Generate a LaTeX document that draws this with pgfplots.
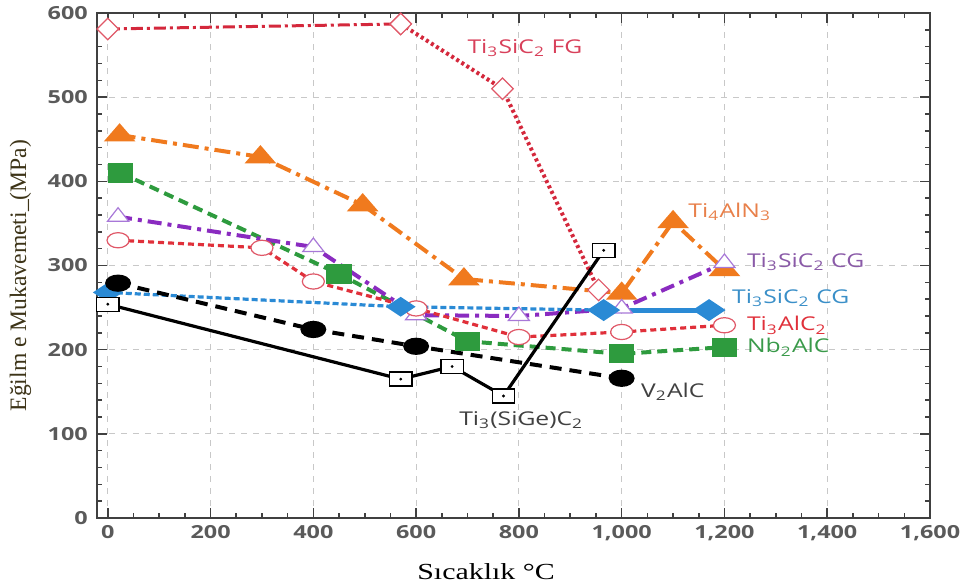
\documentclass[border=0pt]{standalone}
\usepackage{fontspec}
\setmainfont{Liberation Serif}
\setsansfont{Open Sans}
\usepackage{pgfplots}
\pgfplotsset{compat=1.18}

\definecolor{fgred}{HTML}{D4283C}
\definecolor{fglab}{HTML}{D8405A}
\definecolor{orng}{HTML}{F07A1E}
\definecolor{orlab}{HTML}{E8804A}
\definecolor{grn}{HTML}{2E9B3E}
\definecolor{grlab}{HTML}{3A9A4A}
\definecolor{purp}{HTML}{8A2BC0}
\definecolor{pulab}{HTML}{8A5AA8}
\definecolor{purpmk}{HTML}{A878D8}
\definecolor{alred}{HTML}{E0303A}
\definecolor{almk}{HTML}{E05868}
\definecolor{blu}{HTML}{2A8AD5}
\definecolor{blab}{HTML}{3A8FC8}
\definecolor{gridgray}{HTML}{C8C8C8}
\definecolor{axgray}{HTML}{404040}
\definecolor{tickgray}{HTML}{5A5A5A}
\definecolor{ylab}{HTML}{3D3418}

\begin{document}
\begin{tikzpicture}
\begin{axis}[
   at={(0,0)}, anchor=south west,
   scale only axis, width=416.5pt, height=252.5pt,
   xmin=-21, xmax=1600, ymin=0, ymax=600,
   xtick={0,200,...,1600}, ytick={0,100,...,600},
   minor x tick num=3, minor y tick num=4,
   tick align=inside,
   major tick length=5pt, minor tick length=2.5pt,
   every tick/.style={axgray, line width=0.8pt},
   axis line style={axgray, line width=1pt},
   grid=major,
   major grid style={gridgray, dash pattern=on 3pt off 3pt, line width=0.5pt},
   tick label style={font=\sffamily\bfseries\fontsize{9}{10}\selectfont, text=tickgray, xscale=1.3},
   /pgf/number format/.cd, 1000 sep={,}, assume math mode=true, /pgfplots/.cd,
   xlabel={Sıcaklık °C},
   xlabel style={at={(axis description cs:0.467,-0.107)}, anchor=center,
       font=\fontsize{11.5}{13}\selectfont, xscale=1.3},
   ylabel={Eğilm e Mukavemeti\_(MPa)},
   ylabel style={at={(axis description cs:-0.092,0.48)}, anchor=center,
       font=\fontsize{11.8}{13}\selectfont, text=ylab},
   clip=false,
   ]
% Ti3SiC2 FG
\addplot[fgred, line width=1.5pt, dash pattern=on 6pt off 2pt on 1.5pt off 2pt,
   mark=square*, mark size=3.8pt, mark options={rotate=45, solid, fill=white, draw=almk, line width=0.6pt}]
  coordinates {(0,581) (570,587)};
\addplot[fgred, line width=2pt, dash pattern=on 1.5pt off 1.5pt,
   mark=square*, mark size=3.8pt, mark options={rotate=45, solid, fill=white, draw=almk, line width=0.6pt}]
  coordinates {(570,587) (768,510) (955,271)};
% Ti4AlN3
\addplot[orng, line width=2pt, dash pattern=on 8pt off 3pt on 2pt off 3pt,
   mark=triangle*, mark size=4.4pt, mark options={solid, xscale=1.5, fill=orng}]
  coordinates {(23,455) (297,429) (496,372) (693,284) (1000,267) (1100,352) (1200,295)};
% Nb2AlC
\addplot[grn, line width=2pt, dash pattern=on 5pt off 3pt,
   mark=square*, mark size=3.8pt, mark options={solid, xscale=1.4, fill=grn}]
  coordinates {(25,410) (450,290) (700,210) (1000,195) (1200,203)};
% Ti3SiC2 CG (purple)
\addplot[purp, line width=2pt, dash pattern=on 7pt off 3pt on 2pt off 3pt,
   mark=triangle*, mark size=4.5pt, mark options={solid, xscale=1.35, fill=white, draw=purpmk, line width=0.6pt}]
  coordinates {(20,358) (400,322) (600,241) (800,240) (1000,249) (1200,303)};
% Ti3AlC2
\addplot[alred, line width=1.6pt, dash pattern=on 3pt off 2pt,
   mark=*, mark size=3.8pt, mark options={solid, xscale=1.45, fill=white, draw=almk, line width=0.6pt}]
  coordinates {(20,330) (300,321) (400,281) (600,249) (800,215) (1000,221) (1200,229)};
% Ti3SiC2 CG (blue)
\addplot[blu, line width=1.6pt, dash pattern=on 3pt off 1.5pt,
   mark=diamond*, mark size=4pt, mark options={solid, xscale=2, fill=blu}]
  coordinates {(0,268) (570,251) (965,247)};
\addplot[blu, line width=2.5pt,
   mark=diamond*, mark size=4pt, mark options={solid, xscale=2, fill=blu}]
  coordinates {(965,247) (1170,247)};
% V2AlC
\addplot[black, line width=2pt, dash pattern=on 6pt off 4pt,
   mark=*, mark size=3.3pt, mark options={solid, xscale=1.65, fill=black}]
  coordinates {(20,279) (400,224) (600,204) (1000,166)};
% Ti3(SiGe)C2
\addplot[black, line width=1.6pt,
   mark=square*, mark size=3.5pt, mark options={solid, xscale=1.6, fill=white, line width=0.7pt}]
  coordinates {(0,254) (570,165) (670,180) (770,145) (965,318)};
\addplot[black, only marks, mark=*, mark size=0.5pt]
  coordinates {(0,254) (570,165) (670,180) (770,145) (965,318)};

% labels
\tikzset{lab/.style={anchor=west, font=\sffamily\fontsize{9.5}{10}\selectfont, xscale=1.3, inner sep=0pt}}
\node[lab, text=fglab] at (axis cs:699,558) {Ti\textsubscript{3}SiC\textsubscript{2} FG};
\node[lab, text=orlab] at (axis cs:1129,364) {Ti\textsubscript{4}AlN\textsubscript{3}};
\node[lab, text=pulab] at (axis cs:1243,304) {Ti\textsubscript{3}SiC\textsubscript{2} CG};
\node[lab, text=blab] at (axis cs:1214,261) {Ti\textsubscript{3}SiC\textsubscript{2} CG};
\node[lab, text=alred] at (axis cs:1243,229) {Ti\textsubscript{3}AlC\textsubscript{2}};
\node[lab, text=grlab] at (axis cs:1243,203) {Nb\textsubscript{2}AlC};
\node[lab, text=axgray] at (axis cs:1037,150) {V\textsubscript{2}AlC};
\node[lab, text=axgray] at (axis cs:683,116) {Ti\textsubscript{3}(SiGe)C\textsubscript{2}};
\end{axis}
\pgfresetboundingbox
\path (-48.5pt,-34.5pt) rectangle (435.5pt,259pt);
\end{tikzpicture}
\end{document}
